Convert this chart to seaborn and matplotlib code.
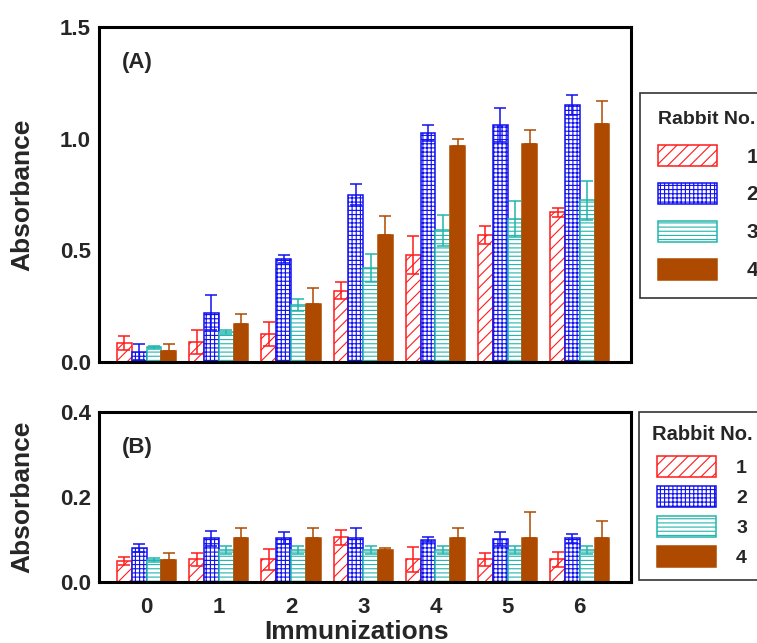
import numpy as np
import pandas as pd
import matplotlib
matplotlib.use('Agg')
import matplotlib.pyplot as plt
import matplotlib.patches as mpatches
import seaborn as sns

immunizations = ['0', '1', '2', '3', '4', '5', '6']
rabbits = ['1', '2', '3', '4']

# panel A
absA_1 = [0.085, 0.09, 0.125, 0.32, 0.48, 0.57, 0.67]
errA_1 = [0.03, 0.055, 0.055, 0.04, 0.085, 0.04, 0.02]
absA_2 = [0.045, 0.22, 0.46, 0.75, 1.025, 1.06, 1.15]
errA_2 = [0.035, 0.078, 0.017, 0.045, 0.035, 0.077, 0.045]
absA_3 = [0.065, 0.135, 0.255, 0.42, 0.59, 0.64, 0.725]
errA_3 = [0.006, 0.01, 0.025, 0.063, 0.07, 0.08, 0.087]
absA_4 = [0.05, 0.17, 0.26, 0.57, 0.965, 0.975, 1.065]
errA_4 = [0.032, 0.045, 0.07, 0.082, 0.035, 0.065, 0.105]

# panel B
absB_1 = [0.05, 0.053, 0.053, 0.105, 0.053, 0.053, 0.053]
errB_1 = [0.009, 0.015, 0.025, 0.017, 0.03, 0.015, 0.017]
absB_2 = [0.08, 0.103, 0.103, 0.103, 0.099, 0.101, 0.103]
errB_2 = [0.009, 0.018, 0.014, 0.023, 0.006, 0.016, 0.011]
absB_3 = [0.052, 0.076, 0.076, 0.076, 0.076, 0.076, 0.076]
errB_3 = [0.004, 0.009, 0.009, 0.009, 0.009, 0.009, 0.009]
absB_4 = [0.052, 0.103, 0.103, 0.076, 0.103, 0.103, 0.103]
errB_4 = [0.016, 0.025, 0.025, 0.004, 0.025, 0.061, 0.041]

colors = ['#FF1A1A', '#1010F0', '#22B5AD', '#AE4A00']
hatches = ['///', '++++', '----', None]

sns.set_style('white')
plt.rcParams['font.family'] = ['Liberation Sans', 'DejaVu Sans']
plt.rcParams['font.weight'] = 'bold'
plt.rcParams['hatch.linewidth'] = 0.8


def make_df(vals):
    rows = []
    for r, v in zip(rabbits, vals):
        for imm, a in zip(immunizations, v):
            rows.append({'imm': imm, 'rabbit': r, 'abs': a})
    return pd.DataFrame(rows)


def draw_panel(ax, vals, errs, ymax, yticks, tag, tag_y):
    df = make_df(vals)
    sns.barplot(data=df, x='imm', y='abs', hue='rabbit', order=immunizations,
                hue_order=rabbits, palette=colors, saturation=1, width=0.82,
                errorbar=None, legend=False, ax=ax)
    bars = list(ax.containers)
    for i, cont in enumerate(bars):
        for p in cont:
            if hatches[i] is None:
                p.set_facecolor(colors[i])
                p.set_edgecolor(colors[i])
            else:
                p.set_facecolor('white')
                p.set_edgecolor(colors[i])
                p.set_hatch(hatches[i])
            p.set_linewidth(1.1)
            p.set_zorder(2)
        xs = [p.get_x() + p.get_width() / 2 for p in cont]
        hs = [p.get_height() for p in cont]
        e = np.array(errs[i])
        if i == 3:
            yerr = [np.zeros_like(e), e]
            zo = 1
        else:
            yerr = e
            zo = 3
        ax.errorbar(xs, hs, yerr=yerr, fmt='none', ecolor=colors[i],
                    elinewidth=1.1, capsize=4.5, capthick=1.1, zorder=zo)
    ax.set_xlim(-0.66, 6.71)
    ax.set_ylim(0, ymax)
    ax.set_yticks(yticks)
    ax.set_yticklabels(['%.1f' % t for t in yticks])
    ax.tick_params(axis='y', direction='in', length=7, width=1, labelsize=16, pad=6)
    ax.tick_params(axis='x', length=0, labelsize=16, pad=11)
    for s in ax.spines.values():
        s.set_visible(True)
        s.set_linewidth(2.2)
        s.set_color('black')
    ax.set_ylabel('Absorbance', fontsize=19, fontweight='bold')
    ax.yaxis.set_label_coords(-0.122, 0.5)
    ax.text(0.043, tag_y, tag, transform=ax.transAxes,
            fontsize=16, fontweight='bold', va='center', ha='left')


fig = plt.figure(figsize=(7.57, 6.43), dpi=100)
axA = fig.add_axes([99 / 757, 1 - 362 / 643, 532 / 757, 335 / 643])
axB = fig.add_axes([99 / 757, 1 - 582 / 643, 532 / 757, 170 / 643])

draw_panel(axA, [absA_1, absA_2, absA_3, absA_4], [errA_1, errA_2, errA_3, errA_4],
           1.5, [0.0, 0.5, 1.0, 1.5], '(A)', 0.893)
draw_panel(axB, [absB_1, absB_2, absB_3, absB_4], [errB_1, errB_2, errB_3, errB_4],
           0.4, [0.0, 0.2, 0.4], '(B)', 0.79)
axA.set_xticklabels([])
axA.set_xlabel('')
axB.set_xlabel('Immunizations', fontsize=19, fontweight='bold')
axB.xaxis.set_label_coords(0.485, -0.222)

handles = []
for c, h in zip(colors, hatches):
    if h is None:
        handles.append(mpatches.Patch(facecolor=c, edgecolor=c, lw=1.1))
    else:
        handles.append(mpatches.Patch(facecolor='white', edgecolor=c, hatch=h, lw=1.1))

legA = fig.legend(handles, rabbits, title='Rabbit No.', loc='upper left',
                  bbox_to_anchor=(640 / 757, 1 - 93 / 643), borderaxespad=0,
                  frameon=True, fontsize=15,
                  title_fontproperties={'weight': 'bold', 'size': 14},
                  handlelength=2.83, handleheight=1.19, handletextpad=1.44,
                  labelspacing=0.78, borderpad=0.85, alignment='left', fancybox=False)
legA.get_frame().set_edgecolor('black')
legA.get_frame().set_linewidth(1.2)
legA._legend_box.sep = 12.4

legB = fig.legend(handles, rabbits, title='Rabbit No.', loc='upper left',
                  bbox_to_anchor=(639 / 757, 1 - 412 / 643), borderaxespad=0,
                  frameon=True, fontsize=14,
                  title_fontproperties={'weight': 'bold', 'size': 14.5},
                  handlelength=3.04, handleheight=1.3, handletextpad=1.03,
                  labelspacing=0.45, borderpad=0.65, alignment='center', fancybox=False)
legB.get_frame().set_edgecolor('black')
legB.get_frame().set_linewidth(1.2)
# a bit more room between the title and the first entry
legB._legend_box.sep = 9

fig.savefig('out.png', dpi=100)
